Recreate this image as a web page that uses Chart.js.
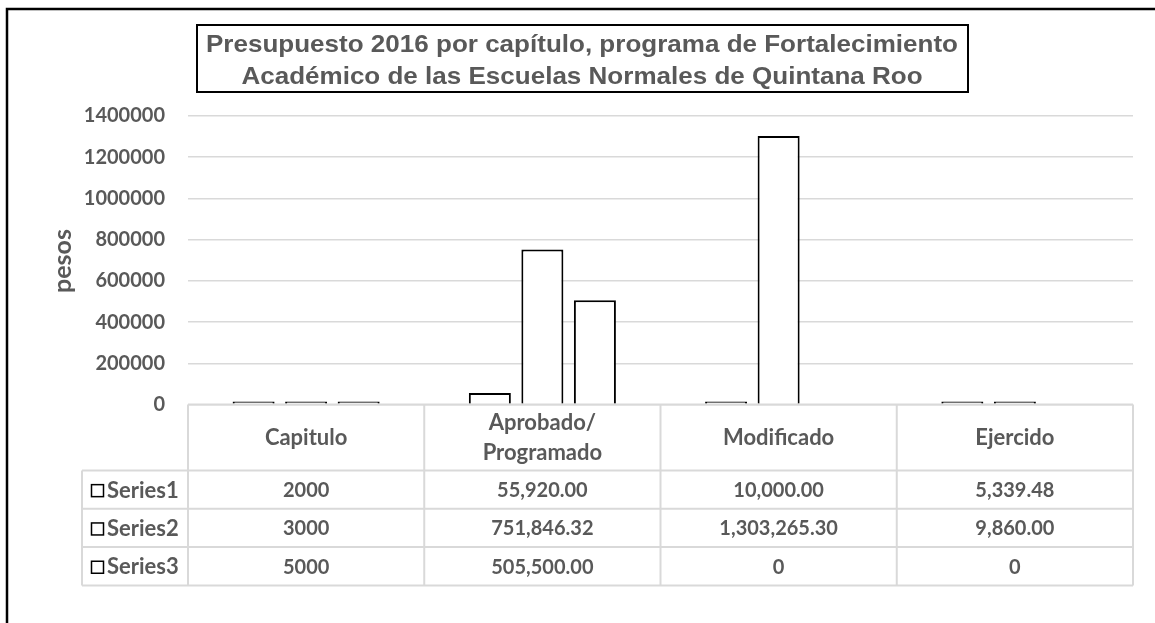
<!DOCTYPE html>
<html>
<head>
<meta charset="utf-8">
<script src="https://cdn.jsdelivr.net/npm/chart.js@4.4.0/dist/chart.umd.min.js"></script>
<style>
  html, body { margin: 0; padding: 0; background: #fff; }
  #chart { display: block; }
</style>
</head>
<body>
<canvas id="chart" width="1155" height="623"></canvas>
<script>
// data
const categories = ["Capitulo", "Aprobado/\nProgramado", "Modificado", "Ejercido"];
const seriesNames = ["Series1", "Series2", "Series3"];
const series1 = [2000, 55920.00, 10000.00, 5339.48];
const series2 = [3000, 751846.32, 1303265.30, 9860.00];
const series3 = [5000, 505500.00, 0, 0];
const yTicks = [0, 200000, 400000, 600000, 800000, 1000000, 1200000, 1400000];
const titleLines = [
  "Presupuesto 2016 por capítulo, programa de Fortalecimiento",
  "Académico de las Escuelas Normales de Quintana Roo"
];
const yTitle = "pesos";

const allSeries = [series1, series2, series3];
const gray = "#595959";
const lineGray = "#d9d9d9";
const textFont = "bold 22px Lato";
const numFont = "bold 20px Lato";

// first column holds raw chapter numbers, the rest are money values
const fmtCell = (v, col) => {
  if (col === 0 || v === 0) return String(v);
  return v.toLocaleString("en-US", { minimumFractionDigits: 2, maximumFractionDigits: 2 });
};

const decorPlugin = {
  id: "decor",
  beforeDraw(chart) {
    const ctx = chart.ctx;
    ctx.save();
    ctx.fillStyle = "#fff";
    ctx.fillRect(0, 0, chart.width, chart.height);
    ctx.restore();
  },
  afterDraw(chart) {
    const ctx = chart.ctx;
    const area = chart.chartArea;
    ctx.save();

    // outer frame (runs off right and bottom)
    ctx.strokeStyle = "#000";
    ctx.lineWidth = 2.5;
    ctx.beginPath();
    ctx.moveTo(7, 640);
    ctx.lineTo(7, 9);
    ctx.lineTo(1160, 9);
    ctx.stroke();

    // title box
    ctx.lineWidth = 2;
    ctx.strokeRect(197, 25, 771, 67);
    ctx.fillStyle = gray;
    ctx.font = "bold 24px 'Liberation Sans'";
    ctx.textAlign = "center";
    ctx.textBaseline = "alphabetic";
    const w1 = ctx.measureText(titleLines[0]).width;
    const sx = 752 / w1;
    [52, 84].forEach((y, i) => {
      ctx.save();
      ctx.translate(582, y);
      ctx.scale(sx, 1);
      ctx.fillText(titleLines[i], 0, 0);
      ctx.restore();
    });

    // y axis title
    ctx.textBaseline = "middle";
    ctx.save();
    ctx.translate(63, 261);
    ctx.rotate(-Math.PI / 2);
    ctx.font = "bold 25px Lato";
    ctx.fillText(yTitle, 0, 0);
    ctx.restore();

    // data table
    const xs = chart.scales.x;
    const catW = (area.right - area.left) / categories.length;
    const top = area.bottom;
    const headH = 66, rowH = 38.3;
    const legL = 82;
    const bottom = top + headH + rowH * 3;

    ctx.strokeStyle = lineGray;
    ctx.lineWidth = 2;
    ctx.beginPath();
    ctx.moveTo(area.left, top); ctx.lineTo(area.right, top);
    for (let r = 0; r <= 3; r++) {
      const y = top + headH + r * rowH;
      ctx.moveTo(legL, y); ctx.lineTo(area.right, y);
    }
    ctx.moveTo(legL, top + headH); ctx.lineTo(legL, bottom);
    for (let c = 0; c <= categories.length; c++) {
      const x = area.left + c * catW;
      ctx.moveTo(x, top); ctx.lineTo(x, bottom);
    }
    ctx.stroke();

    ctx.fillStyle = gray;
    ctx.textAlign = "center";
    ctx.font = textFont;
    categories.forEach((cat, c) => {
      const cx = xs.getPixelForValue(c);
      const lines = cat.split("\n");
      const cy = top + headH / 2;
      lines.forEach((ln, i) => {
        ctx.fillText(ln, cx, cy + (i - (lines.length - 1) / 2) * 30);
      });
    });

    allSeries.forEach((vals, r) => {
      const cy = top + headH + r * rowH + rowH / 2 + 1;
      ctx.font = numFont;
      vals.forEach((v, c) => {
        ctx.fillText(fmtCell(v, c), xs.getPixelForValue(c), cy);
      });
      // legend key + series name
      ctx.strokeStyle = "#000";
      ctx.lineWidth = 1.5;
      ctx.strokeRect(91.5, cy - 6, 12, 12);
      ctx.textAlign = "left";
      ctx.font = textFont;
      ctx.fillText(seriesNames[r], 107, cy);
      ctx.textAlign = "center";
    });

    ctx.restore();
  }
};

new Chart(document.getElementById("chart"), {
  type: "bar",
  data: {
    labels: categories,
    datasets: allSeries.map((vals, i) => ({
      label: seriesNames[i],
      data: vals.map(v => (v === 0 ? null : v)),
      backgroundColor: "#fff",
      borderColor: "#000",
      borderWidth: 2,
      minBarLength: 3,
      categoryPercentage: 0.667,
      barPercentage: 0.8
    }))
  },
  options: {
    responsive: false,
    animation: false,
    devicePixelRatio: 1,
    layout: { padding: { left: 0, top: 116, right: 22, bottom: 218.5 } },
    plugins: {
      legend: { display: false },
      title: { display: false },
      tooltip: { enabled: false }
    },
    scales: {
      x: { display: false },
      y: {
        min: 0,
        max: 1400000,
        afterFit: s => { s.width = 188; },
        afterBuildTicks: s => { s.ticks = yTicks.map(v => ({ value: v })); },
        border: { display: false },
        grid: { color: lineGray, lineWidth: 1.5, drawTicks: false },
        ticks: {
          padding: 23,
          color: gray,
          font: { family: "Lato", weight: "bold", size: 20 },
          callback: v => String(v)
        }
      }
    }
  },
  plugins: [decorPlugin]
});
</script>
</body>
</html>
